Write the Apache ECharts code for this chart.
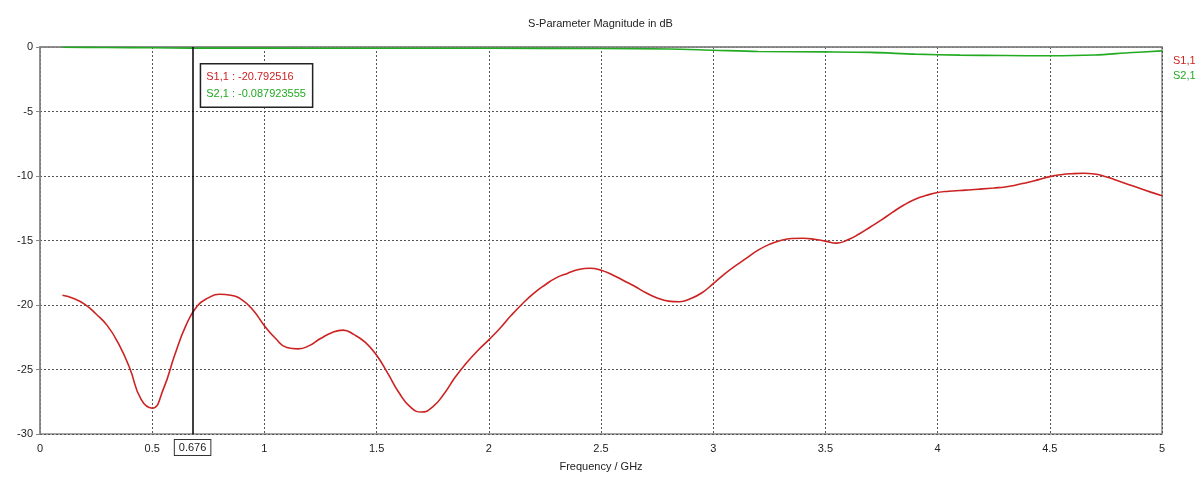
<!DOCTYPE html>
<html>
<head>
<meta charset="utf-8">
<script src="https://cdn.jsdelivr.net/npm/echarts@6/dist/echarts.min.js"></script>
<style>
html,body{margin:0;padding:0;background:#fff;}
#chart{width:1201px;height:477px;}
</style>
</head>
<body>
<div id="chart"></div>
<script>
// Frequency (GHz) and magnitude (dB)
var s11Freq = [0.10,0.15,0.20,0.25,0.30,0.35,0.40,0.45,0.50,0.55,0.60,0.65,0.70,0.75,0.80,0.85,0.90,0.95,1.00,1.05,1.10,1.15,1.20,1.25,1.30,1.35,1.40,1.45,1.50,1.55,1.60,1.65,1.70,1.75,1.80,1.85,1.90,1.95,2.00,2.05,2.10,2.15,2.20,2.25,2.30,2.35,2.40,2.45,2.50,2.55,2.60,2.65,2.70,2.75,2.80,2.85,2.90,2.95,3.00,3.05,3.10,3.15,3.20,3.25,3.30,3.35,3.40,3.45,3.50,3.55,3.60,3.65,3.70,3.75,3.80,3.85,3.90,3.95,4.00,4.05,4.10,4.15,4.20,4.25,4.30,4.35,4.40,4.45,4.50,4.55,4.60,4.65,4.70,4.75,4.80,4.85,4.90,4.95,5.00];
var s11Vals = [-19.25,-19.5,-19.95,-20.7,-21.6,-23.0,-24.9,-27.3,-28.0,-26.5,-23.9,-21.6,-20.1,-19.45,-19.17,-19.25,-19.6,-20.4,-21.6,-22.6,-23.3,-23.4,-23.15,-22.6,-22.15,-21.95,-22.3,-22.9,-23.9,-25.3,-26.8,-27.9,-28.3,-27.9,-26.9,-25.6,-24.5,-23.55,-22.7,-21.8,-20.8,-19.9,-19.1,-18.45,-17.9,-17.55,-17.25,-17.15,-17.3,-17.65,-18.1,-18.55,-19.05,-19.45,-19.7,-19.75,-19.5,-19.05,-18.35,-17.6,-16.95,-16.35,-15.75,-15.3,-15.0,-14.85,-14.83,-14.9,-15.05,-15.2,-14.95,-14.5,-13.95,-13.4,-12.8,-12.25,-11.8,-11.5,-11.28,-11.18,-11.12,-11.07,-11.0,-10.93,-10.85,-10.7,-10.5,-10.28,-10.05,-9.9,-9.82,-9.79,-9.85,-10.05,-10.35,-10.65,-10.95,-11.25,-11.54];
var s21Freq = [0.10,0.30,0.50,0.676,1.00,1.50,2.00,2.50,2.80,3.00,3.20,3.50,3.70,3.90,4.10,4.30,4.50,4.70,4.85,5.00];
var s21Vals = [-0.02,-0.04,-0.06,-0.088,-0.09,-0.10,-0.10,-0.12,-0.15,-0.25,-0.35,-0.38,-0.42,-0.55,-0.63,-0.66,-0.68,-0.62,-0.45,-0.30];
var seriesNames = ['S1,1','S2,1'];
var markerFreq = 0.676;
var markerTexts = ['S1,1 : -20.792516','S2,1 : -0.087923555'];
var xMin = 0, xMax = 5, xStep = 0.5;
var yMin = -30, yMax = 0, yStep = 5;

var RED = '#cc2222', GREEN = '#22aa22';
function pairs(xs, ys){ return xs.map(function(x,i){ return [x, ys[i]]; }); }

var chart = echarts.init(document.getElementById('chart'));
chart.setOption({
  animation:false,
  backgroundColor:'#fff',
  textStyle:{fontFamily:'Liberation Sans, Arial, sans-serif'},
  title:{
    text:'S-Parameter Magnitude in dB',
    left:'center', top:13,
    textStyle:{fontSize:11, fontWeight:'normal', color:'#222', fontFamily:'Liberation Sans, Arial, sans-serif'}
  },
  legend:{
    orient:'vertical', left:1163, top:50,
    itemWidth:0, itemHeight:0, itemGap:4,
    icon:'rect',
    data:[
      {name:seriesNames[0], textStyle:{color:RED}},
      {name:seriesNames[1], textStyle:{color:GREEN}}
    ],
    textStyle:{fontSize:11, fontFamily:'Liberation Sans, Arial, sans-serif'}
  },
  grid:{left:40, right:39, top:47, bottom:41, show:true, borderColor:'#888', borderWidth:1.5, backgroundColor:'#fff'},
  xAxis:{
    type:'value', min:xMin, max:xMax, interval:xStep,
    name:'Frequency / GHz', nameLocation:'middle', nameGap:27,
    nameTextStyle:{fontSize:11, color:'#222'},
    axisLine:{show:true, lineStyle:{color:'#888', width:1.5}},
    axisTick:{show:false},
    axisLabel:{fontSize:11, color:'#222', margin:9},
    splitLine:{show:true, lineStyle:{color:'#555', type:[2,2], width:1}}
  },
  yAxis:{
    type:'value', min:yMin, max:yMax, interval:yStep,
    axisLine:{show:true, lineStyle:{color:'#888', width:1.5}},
    axisTick:{show:true, inside:false, length:4, lineStyle:{color:'#888'}},
    axisLabel:{fontSize:11, color:'#222', margin:7},
    splitLine:{show:true, lineStyle:{color:'#555', type:[2,2], width:1}}
  },
  series:[
    {
      name:seriesNames[0], type:'line', data:pairs(s11Freq, s11Vals),
      smooth:0.5, showSymbol:false, symbol:'none',
      lineStyle:{color:RED, width:1.6}, itemStyle:{color:RED},
      markLine:{
        silent:true, symbol:'none',
        lineStyle:{color:'#000', width:1.5, type:'solid'},
        label:{
          show:true, position:'start', distance:6,
          formatter:String(markerFreq),
          color:'#222', fontSize:11, backgroundColor:'#fff',
          borderColor:'#333', borderWidth:1, padding:[2,4,2,4]
        },
        data:[{xAxis:markerFreq}]
      },
      markPoint:{
        silent:true, symbol:'circle', symbolSize:1,
        itemStyle:{color:'rgba(0,0,0,0)'},
        label:{
          show:true, position:[10,18],
          formatter:'{a|'+markerTexts[0]+'}\n{b|'+markerTexts[1]+'}',
          backgroundColor:'#fff', borderColor:'#222', borderWidth:1.5,
          padding:[4,6,4,5],
          rich:{
            a:{color:RED, fontSize:11, lineHeight:17, fontFamily:'Liberation Sans, Arial, sans-serif'},
            b:{color:GREEN, fontSize:11, lineHeight:17, fontFamily:'Liberation Sans, Arial, sans-serif'}
          }
        },
        data:[{coord:[markerFreq, yMax]}]
      }
    },
    {
      name:seriesNames[1], type:'line', data:pairs(s21Freq, s21Vals),
      smooth:0.3, showSymbol:false, symbol:'none',
      lineStyle:{color:GREEN, width:1.6}, itemStyle:{color:GREEN}
    }
  ]
});
</script>
</body>
</html>
